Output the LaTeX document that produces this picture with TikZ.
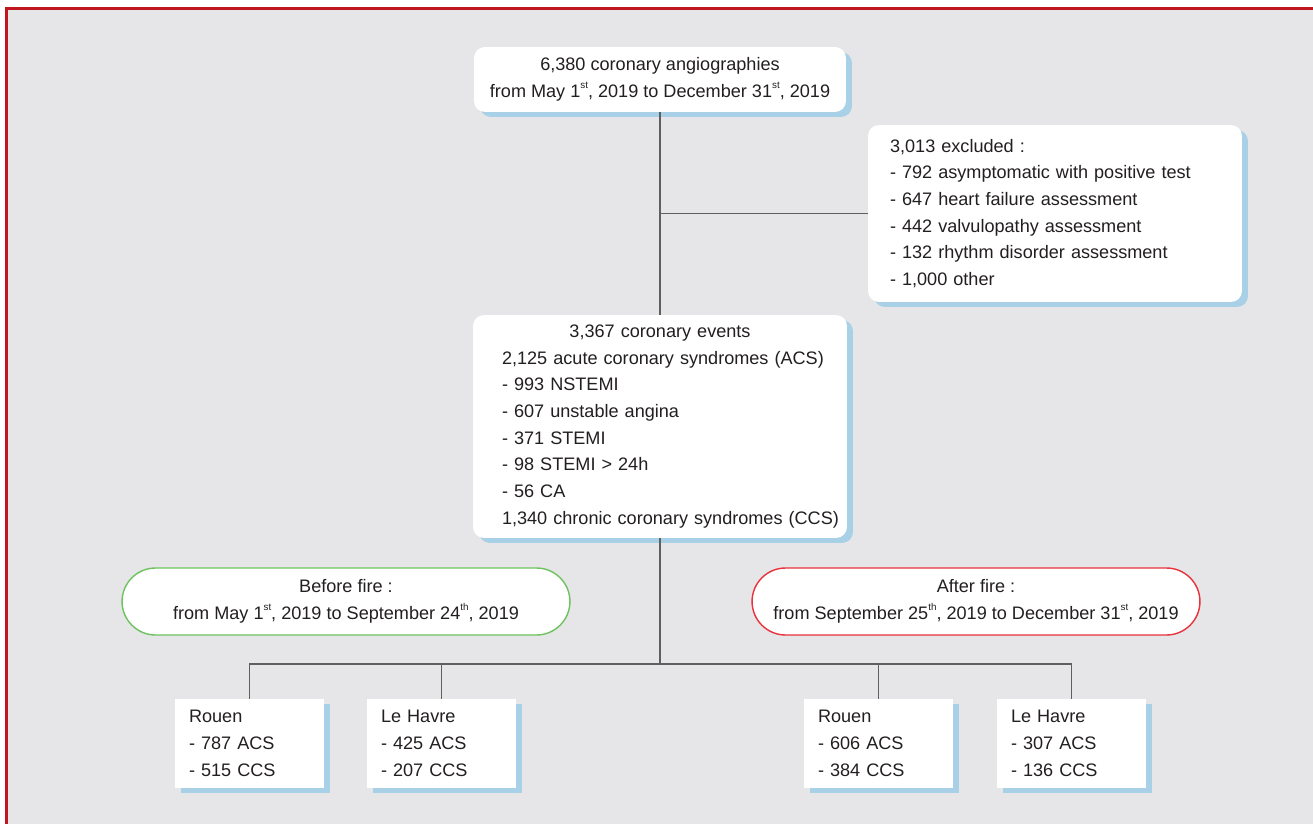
\documentclass[tikz,border=0pt]{standalone}
\usepackage{fontspec}
\setmainfont{Liberation Sans}
\usepackage{xcolor}
\usepackage{tikz}
\usetikzlibrary{shapes,arrows,positioning,shadows}

\definecolor{paneGray}{RGB}{230,230,232}
\definecolor{frameRed}{RGB}{192,22,32}
\definecolor{shadeBlue}{RGB}{168,208,230}
\definecolor{linkGray}{RGB}{95,95,95}
\definecolor{ovalGreen}{RGB}{110,195,95}
\definecolor{ovalRed}{RGB}{232,50,60}
\definecolor{inkDark}{RGB}{35,31,32}

\newcommand{\ordsup}[1]{\raisebox{0.95ex}{\fontsize{5.6pt}{5.6pt}\selectfont #1}}

\begin{document}
\begin{tikzpicture}[
        x=0.02cm, y=-0.02cm,
        font=\fontsize{10.3pt}{15.2pt}\selectfont,
        every node/.style={text=inkDark},
        blueshade/.style={
            drop shadow={shadow xshift=0.12cm, shadow yshift=-0.1cm, fill=shadeBlue, opacity=1}
        },
        box/.style={
            fill=white,
            rounded corners=0.22cm,
            blueshade
        },
        oval/.style={
            fill=white,
            line width=0.8pt,
            rounded corners=0.67cm,
            minimum width=8.96cm,
            minimum height=1.34cm,
            align=center
        },
        site/.style={
            fill=white,
            blueshade,
            minimum width=2.98cm,
            minimum height=1.78cm,
            text width=2.42cm,
            inner xsep=0.28cm,
            align=left
        },
        link/.style={
            draw=linkGray,
            line width=1.1pt
        }
    ]

    \useasboundingbox (0,0) rectangle (1313,824);
    \fill[paneGray] (6.5,8.5) rectangle (1314.5,830);
    \draw[frameRed, line width=0.06cm] (6.5,8.5) rectangle (1314.5,830);

    \node[
        box,
        minimum width=7.44cm,
        minimum height=1.30cm,
        align=center
    ] (angio) at (660,79.5) {6,380 coronary angiographies\\
        from May 1\ordsup{st}, 2019 to December 31\ordsup{st}, 2019};

    \node[
        box,
        minimum width=7.48cm,
        minimum height=3.54cm,
        text width=6.6cm,
        inner xsep=0.44cm,
        align=left
    ] (excluded) at (1055,213.5) {3,013 excluded :\\
        - 792 asymptomatic with positive test\\
        - 647 heart failure assessment\\
        - 442 valvulopathy assessment\\
        - 132 rhythm disorder assessment\\
        - 1,000 other};

    \node[
        box,
        minimum width=7.48cm,
        minimum height=4.46cm,
        text width=7.28cm,
        inner xsep=0.1cm,
        align=left
    ] (events) at (660,426.5) {\leftskip=0.48cm
        {\centering 3,367 coronary events\par}
        2,125 acute coronary syndromes (ACS)\\
        - 993 NSTEMI\\
        - 607 unstable angina\\
        - 371 STEMI\\
        - 98 STEMI > 24h\\
        - 56 CA\\
        1,340 chronic coronary syndromes (CCS)\par};

    \node[oval, draw=ovalGreen] (before) at (346,601.5) {Before fire :\\
        from May 1\ordsup{st}, 2019 to September 24\ordsup{th}, 2019};

    \node[oval, draw=ovalRed] (after) at (976,601.5) {After fire :\\
        from September 25\ordsup{th}, 2019 to December 31\ordsup{st}, 2019};

    \node[site] (rouenBefore) at (249.5,743.5) {Rouen\\- 787 ACS\\- 515 CCS};
    \node[site] (havreBefore) at (441.5,743.5) {Le Havre\\- 425 ACS\\- 207 CCS};
    \node[site] (rouenAfter) at (878.5,743.5) {Rouen\\- 606 ACS\\- 384 CCS};
    \node[site] (havreAfter) at (1071.5,743.5) {Le Havre\\- 307 ACS\\- 136 CCS};

    \coordinate (fork) at (660,664);

    \draw[link] (angio.south) -- (events.north);
    \draw[link] (angio.south |- excluded.west) -- (excluded.west);
    \draw[link] (events.south) -- (fork);
    \draw[link] (rouenBefore.north) |- (fork) -| (havreAfter.north);
    \draw[link] (havreBefore.north) -- (havreBefore.north |- fork);
    \draw[link] (rouenAfter.north) -- (rouenAfter.north |- fork);

\end{tikzpicture}
\end{document}
